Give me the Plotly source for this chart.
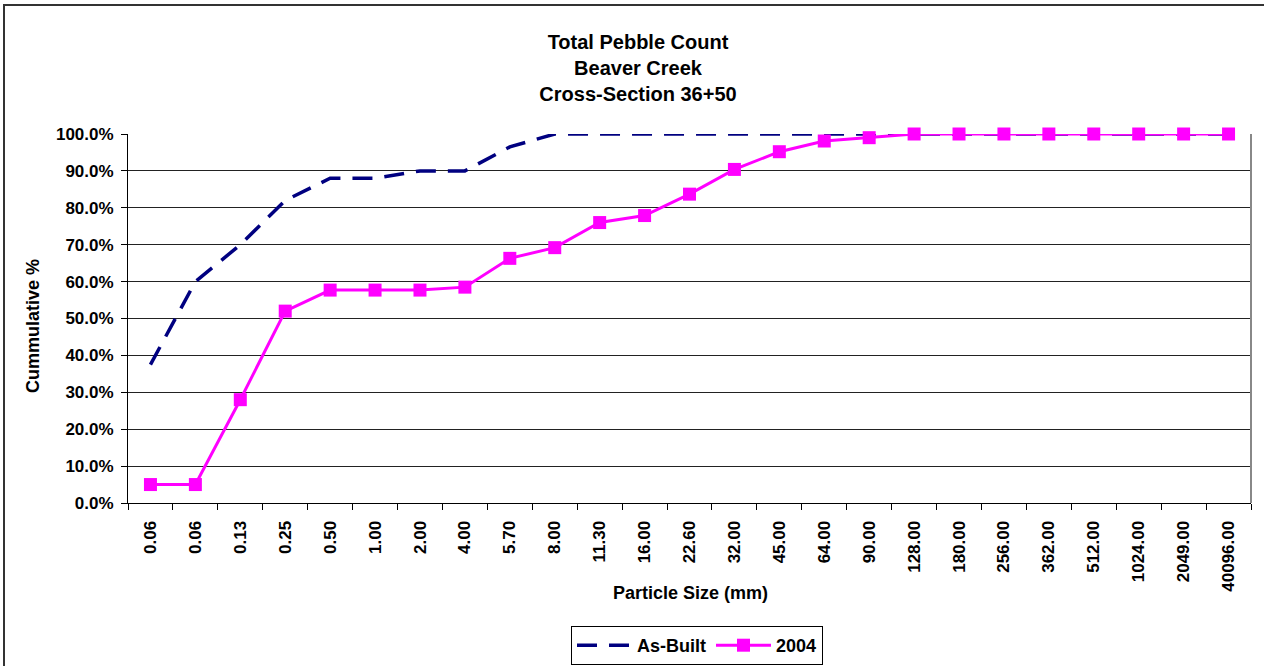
import plotly.graph_objects as go

size_labels = ["0.06", "0.06", "0.13", "0.25", "0.50", "1.00", "2.00", "4.00", "5.70", "8.00",
               "11.30", "16.00", "22.60", "32.00", "45.00", "64.00", "90.00", "128.00", "180.00",
               "256.00", "362.00", "512.00", "1024.00", "2049.00", "40096.00"]
as_built = [37.5, 60.0, 70.0, 82.0, 88.0, 88.0, 90.0, 90.0, 96.5, 100.0,
            100.0, 100.0, 100.0, 100.0, 100.0, 100.0, 100.0, 100.0, 100.0,
            100.0, 100.0, 100.0, 100.0, 100.0, 100.0]
y2004 = [5.0, 5.0, 28.0, 52.0, 57.7, 57.7, 57.7, 58.5, 66.3, 69.2,
         76.0, 77.9, 83.7, 90.4, 95.2, 98.1, 99.0, 100.0, 100.0,
         100.0, 100.0, 100.0, 100.0, 100.0, 100.0]

xpos = list(range(len(size_labels)))
FONT = "Arial, 'Liberation Sans', sans-serif"

fig = go.Figure()
fig.add_trace(go.Scatter(
    x=xpos, y=as_built, name="<b>As-Built</b>", mode="lines",
    line=dict(color="#000080", width=3.5, dash="20px,12px"),
    cliponaxis=False))
fig.add_trace(go.Scatter(
    x=xpos, y=y2004, name="<b>2004</b>", mode="lines+markers",
    line=dict(color="#FF00FF", width=3),
    marker=dict(symbol="square", size=13, color="#FF00FF"),
    cliponaxis=False))

W, H = 1264, 666
L, R, T, B = 128, 13, 134, 163
pw = W - L - R
ph = H - T - B

def px_x(x):
    return (x - L) / pw

def px_y(y):
    return (H - B - y) / ph

fig.update_layout(
    width=W, height=H,
    margin=dict(l=L, r=R, t=T, b=B, autoexpand=False),
    paper_bgcolor="white", plot_bgcolor="white",
    font=dict(family=FONT, color="black"),
    title=dict(
        text="<b>Total Pebble Count<br>Beaver Creek<br>Cross-Section 36+50</b>",
        font=dict(size=20, family=FONT, color="black"),
        x=638 / W, xanchor="center", xref="container",
        y=1 - 49 / H, yanchor="middle", yref="container"),
    xaxis=dict(
        range=[-0.5, len(size_labels) - 0.5],
        tickmode="array", tickvals=xpos,
        ticktext=["<b>%s</b>" % s for s in size_labels],
        tickangle=-90, ticks="", ticklabelstandoff=10,
        tickfont=dict(size=17, family=FONT, color="black"),
        showline=True, linecolor="black", linewidth=1,
        showgrid=False, zeroline=False, automargin=False,
        minor=dict(tickmode="array",
                   tickvals=[i - 0.5 for i in range(len(size_labels) + 1)],
                   ticks="outside", ticklen=6, tickcolor="black", tickwidth=1,
                   showgrid=False),
    ),
    yaxis=dict(
        range=[0, 100], tickmode="linear", tick0=0, dtick=10,
        tickformat=".1f", tickprefix="<b>", ticksuffix="%</b>",
        ticks="outside", ticklen=6, tickcolor="black", ticklabelstandoff=4,
        tickfont=dict(size=17, family=FONT, color="black"),
        showline=True, linecolor="black", linewidth=1,
        showgrid=True, gridcolor="#222222", gridwidth=1,
        zeroline=False, automargin=False,
    ),
    showlegend=True,
    legend=dict(
        orientation="h", x=px_x(697), y=px_y(665),
        xanchor="center", yanchor="bottom",
        bordercolor="black", borderwidth=1, bgcolor="white",
        font=dict(size=18, family=FONT, color="black"),
        tracegroupgap=0, itemwidth=55,
    ),
)

fig.add_annotation(
    text="<b>Particle Size (mm)</b>", xref="paper", yref="paper",
    x=px_x(690), y=px_y(593), showarrow=False,
    font=dict(size=18, family=FONT, color="black"),
    xanchor="center", yanchor="middle")
fig.add_annotation(
    text="<b>Cummulative %</b>", xref="paper", yref="paper",
    x=px_x(33), y=px_y(326), showarrow=False, textangle=-90,
    font=dict(size=18, family=FONT, color="black"),
    xanchor="center", yanchor="middle")

# right border of plot area
fig.add_shape(type="line", xref="paper", yref="paper",
              x0=1, x1=1, y0=0, y1=1,
              line=dict(color="#888888", width=2))
# outer chart frame (top & left visible)
fig.add_shape(type="rect", xref="paper", yref="paper",
              x0=px_x(4), x1=px_x(1300), y0=px_y(720), y1=px_y(5),
              line=dict(color="#333333", width=2), layer="above")

fig.write_html("out.html",
               config={"displayModeBar": False},
               post_script="document.body.style.margin='0';document.body.style.overflow='hidden';")
